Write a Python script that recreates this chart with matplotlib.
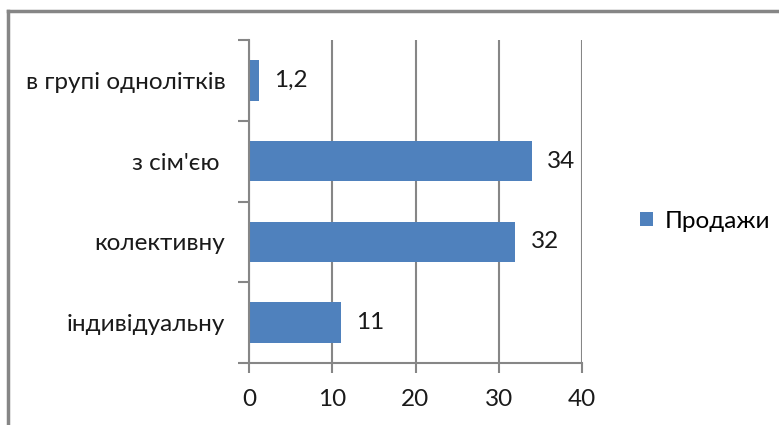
import matplotlib.pyplot as plt
from matplotlib.lines import Line2D
from matplotlib.ticker import FixedLocator

# Дані
categories = ['індивідуальну', 'колективну', "з сім'єю ", 'в групі однолітків']
values = [11, 32, 34, 1.2]
series_name = 'Продажи'
x_ticks = [0, 10, 20, 30, 40]

BAR_COLOR = '#4F81BD'
GRID_COLOR = '#868686'
TEXT_COLOR = '#1a1a1a'
FS = 17.5

plt.rcParams['font.family'] = ['Lato', 'DejaVu Sans']

fig = plt.figure(figsize=(7.79, 4.25), dpi=100)
ax = fig.add_axes([249 / 779, 1 - 363 / 425, (582 - 249) / 779, (363 - 40) / 425])

y_pos = list(range(len(categories)))
bars = ax.barh(y_pos, values, height=0.5, color=BAR_COLOR, label=series_name, zorder=3)

for y, v in zip(y_pos, values):
    txt = f'{v:g}'.replace('.', ',')
    ax.annotate(txt, (v, y), xytext=(11, 0), textcoords='offset points',
                va='center', ha='left', fontsize=FS, color=TEXT_COLOR)

ax.set_xlim(0, 40)
ax.set_ylim(-0.5, len(categories) - 0.5)
ax.set_xticks(x_ticks)
ax.set_yticks(y_pos)
ax.set_yticklabels(categories)
ax.yaxis.set_minor_locator(FixedLocator([i - 0.5 for i in range(len(categories) + 1)]))

ax.grid(axis='x', color=GRID_COLOR, linewidth=1.5, zorder=0)
ax.tick_params(axis='x', length=7, width=1.5, color=GRID_COLOR, labelsize=FS,
               labelcolor=TEXT_COLOR, pad=12)
ax.tick_params(axis='y', which='major', length=0, labelsize=FS, labelcolor=TEXT_COLOR, pad=17)
ax.tick_params(axis='y', which='minor', length=8, width=1.5, color=GRID_COLOR)

for s in ['top', 'right']:
    ax.spines[s].set_visible(False)
for s in ['left', 'bottom']:
    ax.spines[s].set_color(GRID_COLOR)
    ax.spines[s].set_linewidth(1.5)
    ax.spines[s].set_zorder(4)

fig.legend(handles=[bars], labels=[series_name], loc='center left',
           bbox_to_anchor=(640 / 779, 1 - 221 / 425), frameon=False, borderpad=0,
           borderaxespad=0, fontsize=FS, handlelength=0.55, handleheight=0.55,
           handletextpad=0.45)

# рамка діаграми
fig.add_artist(Line2D([8 / 779, 1], [1 - 11 / 425] * 2, color=GRID_COLOR, lw=2.5))
fig.add_artist(Line2D([8 / 779] * 2, [0, 1 - 11 / 425], color=GRID_COLOR, lw=2.5))

fig.savefig('out.png', dpi=100)
